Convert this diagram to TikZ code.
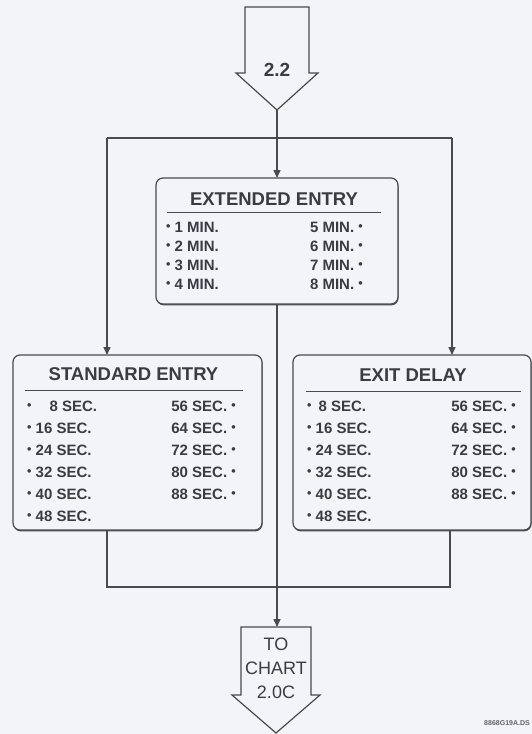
\documentclass[tikz,border=0pt]{standalone}
\usepackage{fontspec}
\setmainfont{Liberation Sans}
\usepackage{tikz}
\usetikzlibrary{
  arrows.meta,
  positioning,
  shadows
}
\definecolor{inkgray}{RGB}{72,74,80}
\definecolor{textgray}{RGB}{58,60,66}
\definecolor{papergray}{RGB}{243,244,248}
\newcommand{\smallbul}{{\fontsize{12.5}{12}\selectfont\raisebox{1.2pt}{•}}}
\tikzset{
  panel/.style={draw=inkgray,line width=1.2pt,fill=papergray,
    rounded corners=7pt,inner sep=0pt,outer sep=0pt,
    drop shadow={shadow xshift=0.5pt,shadow yshift=-1.3pt,
      fill=inkgray,opacity=1}},
  blockarrow/.style={draw=inkgray,line width=1.2pt,fill=papergray},
  flow/.style={-{Triangle[length=8pt,width=7pt]},line width=1.5pt,draw=inkgray},
  wire/.style={line width=1.5pt,draw=inkgray},
  rule/.style={line width=1pt,draw=inkgray},
  title/.style={font=\fontsize{18.5}{22}\selectfont\bfseries,text=textgray,inner sep=0pt},
  itemcol/.style={font=\fontsize{15}{22}\selectfont\bfseries,text=textgray,
    inner sep=0pt},
  arrowlab/.style={align=center,text=textgray,inner sep=0pt}
}

\begin{document}
\begin{tikzpicture}[x=1pt,y=-1pt]
  \path[use as bounding box,fill=papergray] (0,0) rectangle (532,734);
  % entry arrow
  \draw[blockarrow] (245,7) -- (309,7) -- (309,73) -- (318,73) -- (277,110)
    -- (236,73) -- (245,73) -- cycle;
  \node[arrowlab,font=\fontsize{19}{22}\selectfont\bfseries] (inlab) at (277,70) {2.2};
  \coordinate (intip) at (277,110);
  % delay boxes
  \node[panel,minimum width=242pt,minimum height=126pt] (ext) at (277,241) {};
  \node[panel,minimum width=249pt,minimum height=175pt] (std) at (137.5,442.5) {};
  \node[panel,minimum width=238pt,minimum height=175pt] (exit) at (412,442.5) {};
  \node[title] (exttitle) at (274,199) {EXTENDED ENTRY};
  \node[title] (stdtitle) at (133.5,374) {STANDARD ENTRY};
  \node[title] (exittitle) at (413,375) {EXIT DELAY};
  \draw[rule] (167,212) -- (381,212);
  \draw[rule] (25,390) -- (243,390);
  \draw[rule] (306,391) -- (521,391);
  \node[itemcol,align=left,anchor=north west,font=\fontsize{15}{19}\selectfont\bfseries]
    (extL) at (166,221.5)
    {\smallbul\ 1 MIN.\\\smallbul\ 2 MIN.\\\smallbul\ 3 MIN.\\\smallbul\ 4 MIN.};
  \node[itemcol,align=right,anchor=north east,font=\fontsize{15}{19}\selectfont\bfseries]
    (extR) at (363,221.5)
    {5 MIN. \smallbul\\6 MIN. \smallbul\\7 MIN. \smallbul\\8 MIN. \smallbul};
  \node[itemcol,align=left,anchor=north west] (stdL) at (27,400.5)
    {\smallbul\hspace{18pt}8 SEC.\\\smallbul\ 16 SEC.\\\smallbul\ 24 SEC.\\
     \smallbul\ 32 SEC.\\\smallbul\ 40 SEC.\\\smallbul\ 48 SEC.};
  \node[itemcol,align=right,anchor=north east] (stdR) at (236,400.5)
    {56 SEC. \smallbul\\64 SEC. \smallbul\\72 SEC. \smallbul\\
     80 SEC. \smallbul\\88 SEC. \smallbul};
  \node[itemcol,align=left,anchor=north west] (exitL) at (307,400.5)
    {\smallbul\hspace{7pt}8 SEC.\\\smallbul\ 16 SEC.\\\smallbul\ 24 SEC.\\
     \smallbul\ 32 SEC.\\\smallbul\ 40 SEC.\\\smallbul\ 48 SEC.};
  \node[itemcol,align=right,anchor=north east] (exitR) at (516,400.5)
    {56 SEC. \smallbul\\64 SEC. \smallbul\\72 SEC. \smallbul\\
     80 SEC. \smallbul\\88 SEC. \smallbul};
  % exit arrow
  \draw[blockarrow] (241,627) -- (311,627) -- (311,695) -- (320,695) -- (276,733)
    -- (232,695) -- (241,695) -- cycle;
  \node[arrowlab,font=\fontsize{18}{24}\selectfont] (outlab) at (276,668) {TO\\CHART\\2.0C};
  \coordinate (outtop) at (277,627);
  % connectors
  \coordinate (forkL) at (107,138);
  \coordinate (forkR) at (452,138);
  \coordinate (joinL) at (107,587);
  \coordinate (joinR) at (450,587);
  \draw[wire] (intip) -- (intip |- forkL);
  \draw[wire] (forkL) -- (forkR);
  \draw[flow] (intip |- forkL) -- (ext.north);
  \draw[flow] (forkL) -- (forkL |- std.north);
  \draw[flow] (forkR) -- (forkR |- exit.north);
  \draw[wire] (joinL |- std.south) -- (joinL) -- (joinR) -- (joinR |- exit.south);
  \draw[flow] (ext.south) -- (outtop);
  \node[font=\fontsize{7}{8}\selectfont\bfseries,text=textgray!80] (code) at (507,723)
    {8868G19A.DS};
\end{tikzpicture}
\end{document}
